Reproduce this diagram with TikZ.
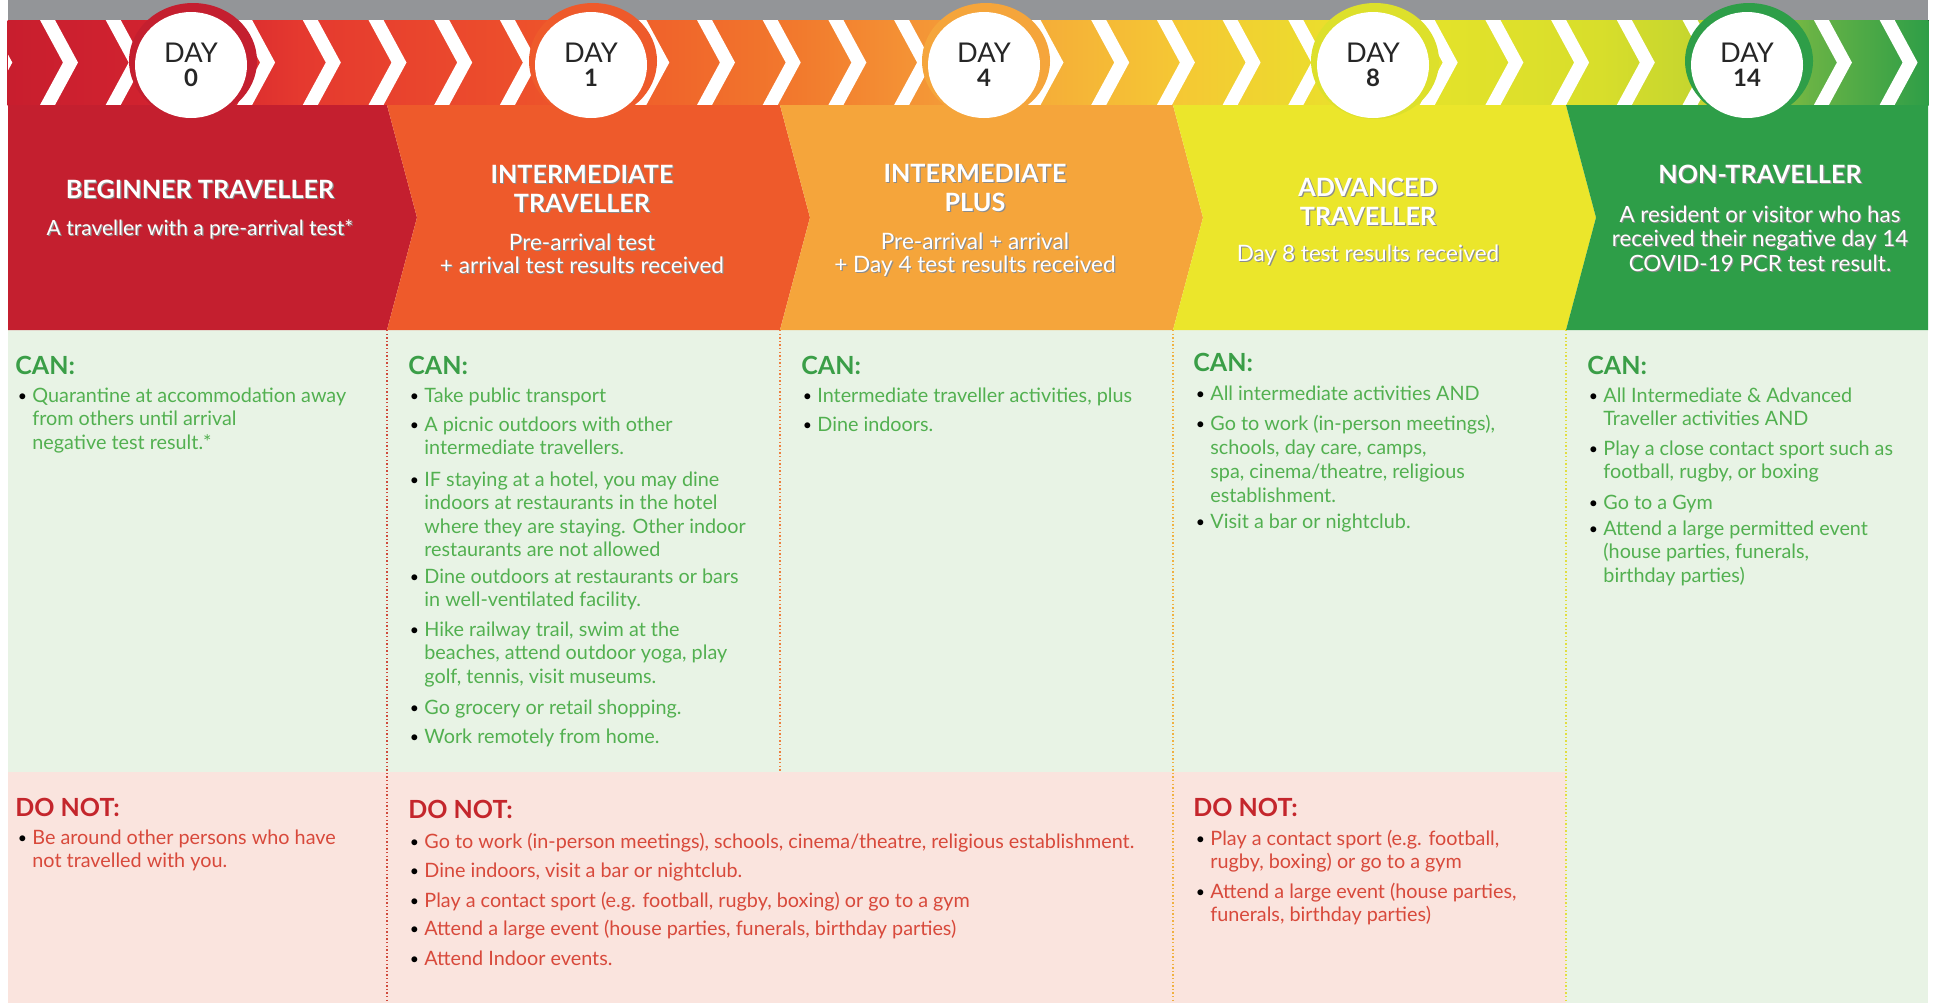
\documentclass[tikz,border=0pt]{standalone}
\usepackage{fontspec}
\setmainfont{Lato}

\definecolor{cRed}{HTML}{C41F2F}
\definecolor{cOrg}{HTML}{EE5A2B}
\definecolor{cLor}{HTML}{F5A53B}
\definecolor{cYel}{HTML}{EBE62B}
\definecolor{cGrn}{HTML}{2E9E48}
\definecolor{rYel}{HTML}{DDE02B}
\definecolor{bandGray}{HTML}{939598}
\definecolor{canBg}{HTML}{E8F3E5}
\definecolor{notBg}{HTML}{FAE4DE}
\definecolor{canHd}{HTML}{3A9E47}
\definecolor{canTx}{HTML}{52B050}
\definecolor{notHd}{HTML}{C4262C}
\definecolor{notTx}{HTML}{D8493B}
\definecolor{s0}{HTML}{C81E2E}
\definecolor{s1}{HTML}{D42430}
\definecolor{s2}{HTML}{E5392F}
\definecolor{s3}{HTML}{EC4D2C}
\definecolor{s4}{HTML}{EF5A2A}
\definecolor{s5}{HTML}{F27A2D}
\definecolor{s6}{HTML}{F5A23A}
\definecolor{s7}{HTML}{F5C834}
\definecolor{s8}{HTML}{E8E42A}
\definecolor{s9}{HTML}{D8DE2B}
\definecolor{s10}{HTML}{C4D52F}
\definecolor{s11}{HTML}{69B345}
\definecolor{s12}{HTML}{2E9E47}
\definecolor{sepRed}{HTML}{D04A3C}
\definecolor{sepOrg}{HTML}{EE7F3E}
\definecolor{sepLor}{HTML}{F0B040}
\definecolor{sepYel}{HTML}{E2DE3E}

\newcommand\fbody{\fontsize{9.9}{11.75}\selectfont}
\newcommand\fbodyb{\fontsize{9.9}{12.1}\selectfont}
\newcommand\fhd{\bfseries\fontsize{12.5}{14.5}\selectfont}
\newcommand\ftitle{\bfseries\fontsize{12.6}{14.5}\selectfont}
\newcommand\fsubA{\fontsize{10.5}{11.75}\selectfont}
\newcommand\fsub{\fontsize{11.3}{11.75}\selectfont}
\newcommand\fsubb{\fontsize{11.2}{12.25}\selectfont}
\newcommand\fday{\fontsize{13.6}{13}\selectfont}
\newcommand\fdaynum{\bfseries\fontsize{12}{13}\selectfont}

\newcommand\shd[1]{\makebox[0pt][l]{\hspace{0.6pt}\raisebox{-0.6pt}{\textcolor{black!45}{#1}}}#1}
\newcommand\hl[1]{\begin{tabular}[t]{@{}c@{}}#1\end{tabular}}
\newcommand\itm[1]{\makebox[5.5pt][l]{\hspace{-1.8pt}\raisebox{0.4pt}{\scalebox{0.8}{\textcolor{black}{\textbullet}}}}\begin{tabular}[t]{@{}l@{}}#1\end{tabular}}

\tikzset{
  lst/.style={anchor=base west, inner sep=0pt, font=\fbody},
  canitem/.style={lst, text=canTx},
  notitem/.style={lst, text=notTx},
  canhd/.style={anchor=base west, inner sep=0pt, font=\fhd, text=canHd},
  nothd/.style={anchor=base west, inner sep=0pt, font=\fhd, text=notHd},
  htitle/.style={anchor=base, inner sep=0pt, text=white, font=\ftitle},
  hsubA/.style={anchor=base, inner sep=0pt, text=white, font=\fsubA},
  hsub/.style={anchor=base, inner sep=0pt, text=white, font=\fsub},
  hsubb/.style={anchor=base, inner sep=0pt, text=white, font=\fsubb},
  daytxt/.style={anchor=base, inner sep=0pt, text=black!85, font=\fday},
  daynum/.style={anchor=base, inner sep=0pt, text=black!85, font=\fdaynum},
  sep/.style={line width=0.6pt, dash pattern=on 0.7pt off 1.1pt},
}

\begin{document}
\begin{tikzpicture}[x=0.5pt, y=-0.5pt]
\fill[white] (0,0) rectangle (1933,1003);
\useasboundingbox (0,0) rectangle (1933,1003);

% backgrounds
\fill[canBg] (8,330) rectangle (1928,1003);
\fill[notBg] (8,772) rectangle (1566,1003);
\fill[bandGray] (8,0) rectangle (1928,20);

% chevron band
\foreach \xa/\xb/\ca/\cb in {8/190/s0/s1, 190/300/s1/s2, 300/500/s2/s3, 500/600/s3/s4, 600/800/s4/s5, 800/980/s5/s6, 980/1180/s6/s7, 1180/1373/s7/s8, 1373/1600/s8/s9, 1600/1700/s9/s10, 1700/1810/s10/s11, 1810/1928/s11/s12}{
  \fill[left color=\ca, right color=\cb] (\xa-0.5,20) rectangle (\xb+0.5,105);
}
\begin{scope}
\clip (8,20) rectangle (1928,105);
\foreach \k in {-1,...,28}{
  \pgfmathsetmacro\xo{40+65.7*\k}
  \fill[white] (\xo,20) -- ++(15,0) -- ++(23,42.5) -- ++(-23,42.5) -- ++(-15,0) -- ++(23,-42.5) -- cycle;
}
\end{scope}

% header blocks
\fill[cRed] (8,105) -- (387,105) -- (417,217.5) -- (387,330) -- (8,330) -- cycle;
\fill[cOrg] (387,105) -- (780,105) -- (810,217.5) -- (780,330) -- (387,330) -- (417,217.5) -- cycle;
\fill[cLor] (780,105) -- (1173,105) -- (1203,217.5) -- (1173,330) -- (780,330) -- (810,217.5) -- cycle;
\fill[cYel] (1173,105) -- (1566,105) -- (1596,217.5) -- (1566,330) -- (1173,330) -- (1203,217.5) -- cycle;
\fill[cGrn] (1566,105) -- (1928,105) -- (1928,330) -- (1566,330) -- (1596,217.5) -- cycle;

% day circles
\foreach \cx/\col/\n in {191/cRed/0, 591/cOrg/1, 984/cLor/4, 1373/rYel/8, 1747/cGrn/14}{
  \fill[\col] (\cx+2,61) ellipse [x radius=64, y radius=58];
  \fill[white] (\cx,65) ellipse [x radius=56, y radius=53];
  \node[daytxt] (dayA\n) at (\cx,62) {DAY};
  \node[daynum] (dayB\n) at (\cx,86) {\n};
}

% separators
\draw[sep, sepRed] (387,330) -- (387,1003);
\draw[sep, sepOrg] (780,330) -- (780,772);
\draw[sep, sepLor] (1173,330) -- (1173,1003);
\draw[sep, sepYel] (1566,330) -- (1566,1003);

% header texts
\node[htitle] (h1t) at (200,198) {\shd{BEGINNER TRAVELLER}};
\node[hsubA] (h1s) at (200,235) {\shd{A traveller with a pre-arrival test*}};
\node[htitle] (h2t) at (582,183) {\hl{\shd{INTERMEDIATE}\\\shd{TRAVELLER}}};
\node[hsub] (h2s) at (582,250) {\hl{\shd{Pre-arrival test}\\\shd{+ arrival test results received}}};
\node[htitle] (h3t) at (975,182) {\hl{\shd{INTERMEDIATE}\\\shd{PLUS}}};
\node[hsub] (h3s) at (975,249) {\hl{\shd{Pre-arrival + arrival}\\\shd{+ Day 4 test results received}}};
\node[htitle] (h4t) at (1368,196) {\hl{\shd{ADVANCED}\\\shd{TRAVELLER}}};
\node[hsub] (h4s) at (1368,261) {\shd{Day 8 test results received}};
\node[htitle] (h5t) at (1760,183) {\shd{NON-TRAVELLER}};
\node[hsubb] (h5s) at (1760,222) {\hl{\shd{A resident or visitor who has}\\\shd{received their negative day 14}\\\shd{COVID-19 PCR test result.}}};

% CAN column 1
\node[canhd] (c1h) at (15,374) {CAN:};
\node[canitem] (c1a) at (21,402) {\itm{Quarantine at accommodation away\\from others until arrival\\negative test result.*}};

% CAN column 2
\node[canhd] (c2h) at (408,374) {CAN:};
\node[canitem] (c2a) at (413,402) {\itm{Take public transport}};
\node[canitem] (c2b) at (413,431) {\itm{A picnic outdoors with other\\intermediate travellers.}};
\node[canitem] (c2c) at (413,486) {\itm{IF staying at a hotel, you may dine\\indoors at restaurants in the hotel\\where they are staying. Other indoor\\restaurants are not allowed}};
\node[canitem] (c2d) at (413,583) {\itm{Dine outdoors at restaurants or bars\\in well-ventilated facility.}};
\node[canitem] (c2e) at (413,636) {\itm{Hike railway trail, swim at the\\beaches, attend outdoor yoga, play\\golf, tennis, visit museums.}};
\node[canitem] (c2f) at (413,714) {\itm{Go grocery or retail shopping.}};
\node[canitem] (c2g) at (413,743) {\itm{Work remotely from home.}};

% CAN column 3
\node[canhd] (c3h) at (801,374) {CAN:};
\node[canitem] (c3a) at (806,402) {\itm{Intermediate traveller activities, plus}};
\node[canitem] (c3b) at (806,431) {\itm{Dine indoors.}};

% CAN column 4
\node[canhd] (c4h) at (1193,371) {CAN:};
\node[canitem] (c4a) at (1199,400) {\itm{All intermediate activities AND}};
\node[canitem, font=\fbodyb] (c4b) at (1199,430) {\itm{Go to work (in-person meetings),\\schools, day care, camps,\\spa, cinema/theatre, religious\\establishment.}};
\node[canitem] (c4c) at (1199,528) {\itm{Visit a bar or nightclub.}};

% CAN column 5
\node[canhd] (c5h) at (1587,374) {CAN:};
\node[canitem] (c5a) at (1592,402) {\itm{All Intermediate \& Advanced\\Traveller activities AND}};
\node[canitem] (c5b) at (1592,455) {\itm{Play a close contact sport such as\\football, rugby, or boxing}};
\node[canitem] (c5c) at (1592,509) {\itm{Go to a Gym}};
\node[canitem] (c5d) at (1592,535) {\itm{Attend a large permitted event\\(house parties, funerals,\\birthday parties)}};

% DO NOT column 1
\node[nothd] (n1h) at (15,816) {DO NOT:};
\node[notitem] (n1a) at (21,844) {\itm{Be around other persons who have\\not travelled with you.}};

% DO NOT columns 2-3
\node[nothd] (n2h) at (408,818) {DO NOT:};
\node[notitem] (n2a) at (413,848) {\itm{Go to work (in-person meetings), schools, cinema/theatre, religious establishment.}};
\node[notitem] (n2b) at (413,877) {\itm{Dine indoors, visit a bar or nightclub.}};
\node[notitem] (n2c) at (413,907) {\itm{Play a contact sport (e.g. football, rugby, boxing) or go to a gym}};
\node[notitem] (n2d) at (413,935) {\itm{Attend a large event (house parties, funerals, birthday parties)}};
\node[notitem] (n2e) at (413,965) {\itm{Attend Indoor events.}};

% DO NOT column 4
\node[nothd] (n4h) at (1193,816) {DO NOT:};
\node[notitem] (n4a) at (1199,845) {\itm{Play a contact sport (e.g. football,\\rugby, boxing) or go to a gym}};
\node[notitem] (n4b) at (1199,898) {\itm{Attend a large event (house parties,\\funerals, birthday parties)}};
\end{tikzpicture}
\end{document}
